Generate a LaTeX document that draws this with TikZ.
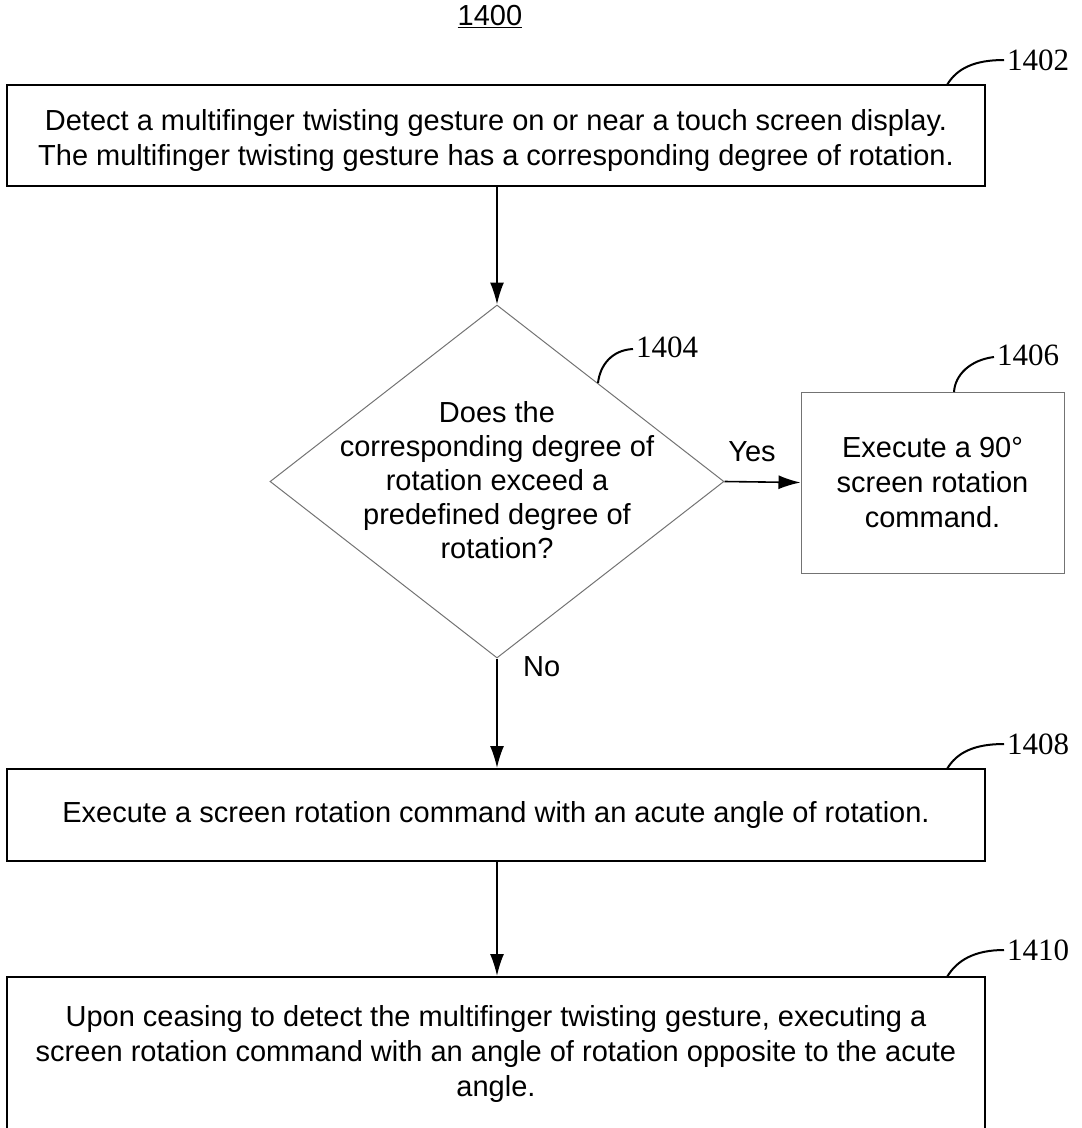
\documentclass[tikz,border=0pt]{standalone}
\usepackage{fontspec}
\setmainfont{Liberation Sans}
\newfontfamily\numfont{Liberation Serif}
\usetikzlibrary{shapes.geometric,arrows.meta}
\begin{document}
\begin{tikzpicture}[x=1pt,y=-1pt,
  txt/.style={font=\fontsize{29}{35}\selectfont, align=center, inner sep=0pt},
  thickbox/.style={draw=black, line width=2pt, rectangle, inner sep=0pt, txt},
  thinbox/.style={draw=black!55, line width=1pt, rectangle, inner sep=0pt, txt},
  dia/.style={draw=black!55, line width=1pt, diamond, inner sep=0pt},
  flow/.style={draw=black, line width=1.6pt, -{Latex[length=22pt,width=14pt]}},
  refcurve/.style={draw=black, line width=2pt},
  reflabel/.style={font=\numfont\fontsize{31}{34}\selectfont, anchor=west, inner sep=0pt},
  plain/.style={font=\fontsize{29}{32}\selectfont, inner sep=0pt}
]
\useasboundingbox (0,0) rectangle (1082,1128);
\clip (0,0) rectangle (1082,1128);

% title
\node[font=\fontsize{29}{32}\selectfont, inner sep=0pt] (title) at (490,17) {\underline{1400}};

% boxes
\node[thickbox, minimum width=978pt, minimum height=101pt] (b1402) at (496,135.5) {};
\node[txt] (t1402) at (496,140)
  {Detect a multifinger twisting gesture on or near a touch screen display.\\
   The multifinger twisting gesture has a corresponding degree of rotation.};

\node[dia, minimum width=454pt, minimum height=353pt] (d1404) at (497,481.5) {};
\node[txt, font=\fontsize{29}{34}\selectfont] (t1404) at (497,480)
  {Does the\\corresponding degree of\\rotation exceed a\\predefined degree of\\rotation?};

\node[thinbox, minimum width=263pt, minimum height=181pt] (b1406) at (932.5,482.5)
  {Execute a 90°\\screen rotation\\command.};

\node[thickbox, minimum width=978pt, minimum height=92pt] (b1408) at (496,815)
  {Execute a screen rotation command with an acute angle of rotation.};

\node[thickbox, minimum width=978pt, minimum height=154pt] (b1410) at (496,1054)
  {Upon ceasing to detect the multifinger twisting gesture, executing a\\
   screen rotation command with an angle of rotation opposite to the acute\\
   angle.};

% connectors
\draw[flow] (b1402.south -| d1404.north) -- (d1404.north);
\draw[flow] (d1404.east) -- (b1406.west);
\draw[flow] (d1404.south) -- (d1404.south |- b1408.north);
\draw[flow] (d1404.south |- b1408.south) -- (d1404.south |- b1410.north);

\node[plain] (yes) at (752,452) {Yes};
\node[plain, anchor=west] (no) at (523,667) {No};

% reference numerals
\coordinate (c1402) at (1004,60);
\draw[refcurve] (947,85) .. controls (957,68) and (975,60) .. (c1402);
\node[reflabel] (n1402) at (1007,60) {1402};

\coordinate (c1404) at (633,349);
\draw[refcurve] (598,383) .. controls (600,365) and (612,350) .. (c1404);
\node[reflabel] (n1404) at (636,347) {1404};

\coordinate (c1406) at (994,357);
\draw[refcurve] (954,392) .. controls (955,375) and (970,360) .. (c1406);
\node[reflabel] (n1406) at (997,355) {1406};

\coordinate (c1408) at (1004,744);
\draw[refcurve] (947,769) .. controls (957,752) and (975,744) .. (c1408);
\node[reflabel] (n1408) at (1007,744) {1408};

\coordinate (c1410) at (1004,950);
\draw[refcurve] (947,977) .. controls (957,960) and (975,950) .. (c1410);
\node[reflabel] (n1410) at (1007,950) {1410};
\end{tikzpicture}
\end{document}
